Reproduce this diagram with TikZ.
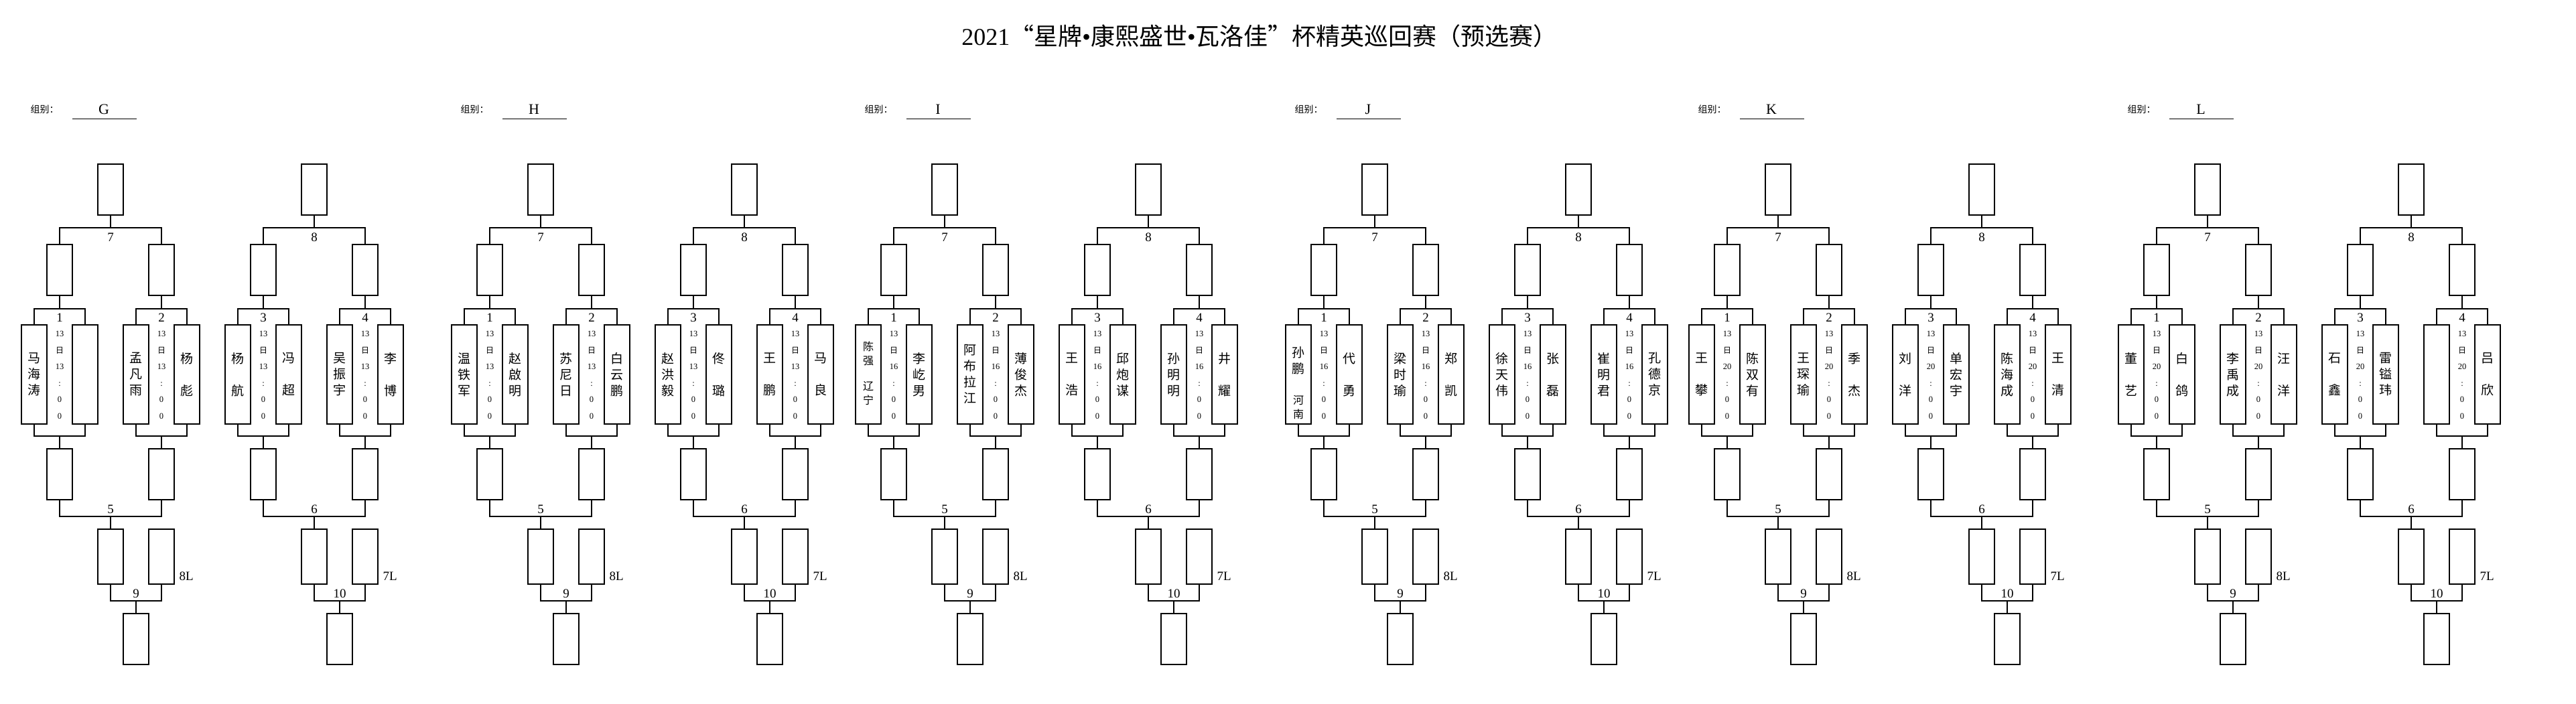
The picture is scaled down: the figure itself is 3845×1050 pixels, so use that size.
\documentclass[tikz,border=0pt]{standalone}
\usepackage{fontspec}
\setmainfont{Liberation Serif}
\newfontfamily\cjk{Noto Sans CJK SC}
\begin{document}
\begin{tikzpicture}[x=1pt,y=-1pt,line width=1.2pt,
 bx/.style={draw,line width=1.2pt,minimum width=38pt,minimum height=76pt,inner sep=0pt,outer sep=0pt},
 pb/.style={bx,minimum height=148pt},
 fb/.style={bx,minimum height=82pt},
 nm/.style={align=center,inner sep=0pt,font=\cjk\fontsize{19}{24}\selectfont},
 sm/.style={align=center,inner sep=0pt,font=\cjk\fontsize{16}{21}\selectfont},
 tm/.style={align=center,inner sep=0pt,font=\fontsize{12.5}{24.6}\selectfont},
 lb/.style={inner sep=0pt,font=\fontsize{19}{19}\selectfont},
 hd/.style={inner sep=0pt,font=\cjk\fontsize{14}{14}\selectfont}]
\useasboundingbox (0,0) rectangle (3845,1050);
\newcommand\pairbox[6]{%
 \node[pb] (#1L) at ({#2-38},559) {};
 \node[pb] (#1R) at ({#2+38},559) {};
 \node[nm] (#1Ln) at (#1L) {#3};
 \node[nm] (#1Rn) at (#1R) {#4};
 \node[tm] (#1T) at (#2,560) {13\\{\cjk\fontsize{12}{24.6}\selectfont 日}\\#5\\:\\0\\0};
 \node[bx] (#1U) at (#2,403) {};
 \node[bx] (#1D) at (#2,708) {};
 \coordinate (#1a) at (#2,461);
 \coordinate (#1b) at (#2,651);
 \draw (#1L.north) |- (#1a) -| (#1R.north);
 \draw (#1a) -- (#1U.south);
 \node[lb] (#1num) at (#2,474) {#6};
 \draw (#1L.south) |- (#1b) -| (#1R.south);
 \draw (#1b) -- (#1D.north);
}
\newcommand\bracketbox[8]{%
 \node[bx] (#1top) at ({#2+165},283) {};
 \coordinate (#1c) at ({#2+165},340);
 \draw (#3U.north) |- (#1c) -| (#4U.north);
 \draw (#1c) -- (#1top.south);
 \node[lb] (#1n1) at ({#2+165},354) {#5};
 \coordinate (#1d) at ({#2+165},771);
 \draw (#3D.south) |- (#1d) -| (#4D.south);
 \node[lb] (#1n2) at ({#2+165},760) {#6};
 \node[fb] (#1e) at ({#2+165},831) {};
 \node[fb] (#1f) at ({#2+241},831) {};
 \draw (#1d) -- (#1e.north);
 \node[lb,anchor=west] (#1n4) at ({#2+267},860) {#8};
 \coordinate (#1g) at ({#2+203},897);
 \draw (#1e.south) |- (#1g) -| (#1f.south);
 \node[lb] (#1n3) at ({#2+203},886) {#7};
 \node[bx] (#1h) at ({#2+203},954) {};
 \draw (#1g) -- (#1h.north);
}
\newcommand\grouphead[3]{%
 \node[hd,anchor=west] (#1hd) at ({#2+45},163) {组别：};
 \node[inner sep=0pt,font=\fontsize{22}{22}\selectfont] (#1let) at ({#2+155},163) {#3};
 \coordinate (#1u1) at ({#2+108},177);
 \coordinate (#1u2) at ({#2+204},177);
 \draw[line width=1pt] (#1u1) -- (#1u2);
}
\node[inner sep=0pt,font=\fontsize{36}{36}\selectfont] (title) at (1880,54) {2021{\cjk “星牌}•{\cjk 康熙盛世}•{\cjk 瓦洛佳”杯精英巡回赛（预选赛）}};
% ---------- G (0)
\grouphead{G}{0}{G}
\pairbox{Ga}{89}{马\\海\\涛}{}{13}{1}
\pairbox{Gb}{241}{孟\\凡\\雨}{杨\\[24pt]彪}{13}{2}
\pairbox{Gc}{393}{杨\\[24pt]航}{冯\\[24pt]超}{13}{3}
\pairbox{Gd}{545}{吴\\振\\宇}{李\\[24pt]博}{13}{4}
\bracketbox{GA}{0}{Ga}{Gb}{7}{5}{9}{8L}
\bracketbox{GB}{304}{Gc}{Gd}{8}{6}{10}{7L}
% ---------- H (642)
\grouphead{H}{642}{H}
\pairbox{Ha}{731}{温\\铁\\军}{赵\\啟\\明}{13}{1}
\pairbox{Hb}{883}{苏\\尼\\日}{白\\云\\鹏}{13}{2}
\pairbox{Hc}{1035}{赵\\洪\\毅}{佟\\[24pt]璐}{13}{3}
\pairbox{Hd}{1187}{王\\[24pt]鹏}{马\\[24pt]良}{13}{4}
\bracketbox{HA}{642}{Ha}{Hb}{7}{5}{9}{8L}
\bracketbox{HB}{946}{Hc}{Hd}{8}{6}{10}{7L}
% ---------- I (1245)
\grouphead{I}{1245}{I}
\pairbox{Ia}{1334}{}{李\\屹\\男}{16}{1}
\node[sm] (Iax) at (1296,528) {陈\\强};
\node[sm] (Iay) at (1296,587) {辽\\宁};
\pairbox{Ib}{1486}{\fontsize{19}{23.5}\selectfont 阿\\布\\拉\\江}{薄\\俊\\杰}{16}{2}
\pairbox{Ic}{1638}{王\\[24pt]浩}{邱\\炮\\谋}{16}{3}
\pairbox{Id}{1790}{孙\\明\\明}{井\\[24pt]耀}{16}{4}
\bracketbox{IA}{1245}{Ia}{Ib}{7}{5}{9}{8L}
\bracketbox{IB}{1549}{Ic}{Id}{8}{6}{10}{7L}
% ---------- J (1887)
\grouphead{J}{1887}{J}
\pairbox{Ja}{1976}{}{代\\[24pt]勇}{16}{1}
\node[nm] (Jax) at (1938,538) {孙\\鹏};
\node[sm] (Jay) at (1938,608) {河\\南};
\pairbox{Jb}{2128}{梁\\时\\瑜}{郑\\[24pt]凯}{16}{2}
\pairbox{Jc}{2280}{徐\\天\\伟}{张\\[24pt]磊}{16}{3}
\pairbox{Jd}{2432}{崔\\明\\君}{孔\\德\\京}{16}{4}
\bracketbox{JA}{1887}{Ja}{Jb}{7}{5}{9}{8L}
\bracketbox{JB}{2191}{Jc}{Jd}{8}{6}{10}{7L}
% ---------- K (2489)
\grouphead{K}{2489}{K}
\pairbox{Ka}{2578}{王\\[24pt]攀}{陈\\双\\有}{20}{1}
\pairbox{Kb}{2730}{王\\琛\\瑜}{季\\[24pt]杰}{20}{2}
\pairbox{Kc}{2882}{刘\\[24pt]洋}{单\\宏\\宇}{20}{3}
\pairbox{Kd}{3034}{陈\\海\\成}{王\\[24pt]清}{20}{4}
\bracketbox{KA}{2489}{Ka}{Kb}{7}{5}{9}{8L}
\bracketbox{KB}{2793}{Kc}{Kd}{8}{6}{10}{7L}
% ---------- L (3130)
\grouphead{L}{3130}{L}
\pairbox{La}{3219}{董\\[24pt]艺}{白\\[24pt]鸽}{20}{1}
\pairbox{Lb}{3371}{李\\禹\\成}{汪\\[24pt]洋}{20}{2}
\pairbox{Lc}{3523}{石\\[24pt]鑫}{雷\\镒\\玮}{20}{3}
\pairbox{Ld}{3675}{}{吕\\[24pt]欣}{20}{4}
\bracketbox{LA}{3130}{La}{Lb}{7}{5}{9}{8L}
\bracketbox{LB}{3434}{Lc}{Ld}{8}{6}{10}{7L}
\end{tikzpicture}
\end{document}
